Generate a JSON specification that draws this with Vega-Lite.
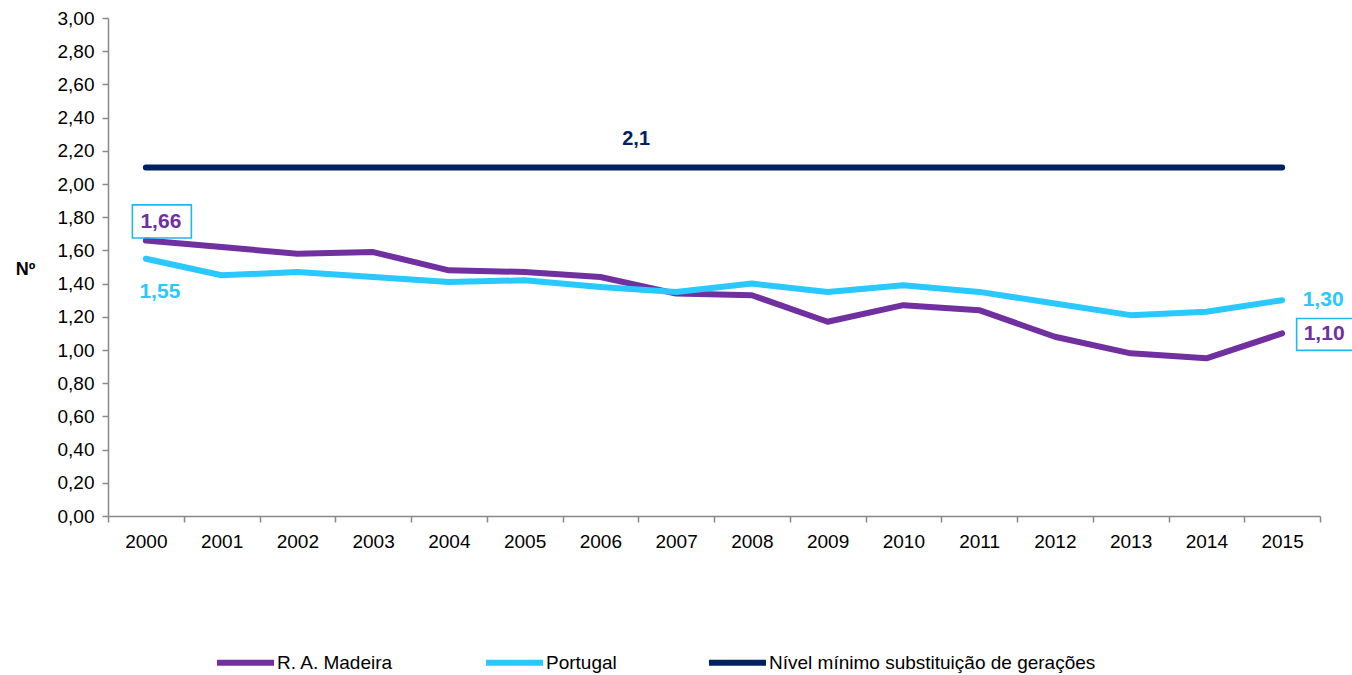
{
  "$schema": "https://vega.github.io/schema/vega-lite/v6.json",
  "autosize": {"type": "none"},
  "padding": {"left": 108, "top": 18, "right": 32, "bottom": 159},
  "width": 1212,
  "height": 498,
  "background": "white",
  "config": {
    "font": "Liberation Sans",
    "view": {"stroke": null},
    "locale": {"number": {"decimal": ",", "thousands": ".", "grouping": [3], "currency": ["", " €"]}}
  },
  "data": {
    "values": [
      {"year": "2000", "series": "R. A. Madeira", "value": 1.66},
      {"year": "2001", "series": "R. A. Madeira", "value": 1.62},
      {"year": "2002", "series": "R. A. Madeira", "value": 1.58},
      {"year": "2003", "series": "R. A. Madeira", "value": 1.59},
      {"year": "2004", "series": "R. A. Madeira", "value": 1.48},
      {"year": "2005", "series": "R. A. Madeira", "value": 1.47},
      {"year": "2006", "series": "R. A. Madeira", "value": 1.44},
      {"year": "2007", "series": "R. A. Madeira", "value": 1.34},
      {"year": "2008", "series": "R. A. Madeira", "value": 1.33},
      {"year": "2009", "series": "R. A. Madeira", "value": 1.17},
      {"year": "2010", "series": "R. A. Madeira", "value": 1.27},
      {"year": "2011", "series": "R. A. Madeira", "value": 1.24},
      {"year": "2012", "series": "R. A. Madeira", "value": 1.08},
      {"year": "2013", "series": "R. A. Madeira", "value": 0.98},
      {"year": "2014", "series": "R. A. Madeira", "value": 0.95},
      {"year": "2015", "series": "R. A. Madeira", "value": 1.10},
      {"year": "2000", "series": "Portugal", "value": 1.55},
      {"year": "2001", "series": "Portugal", "value": 1.45},
      {"year": "2002", "series": "Portugal", "value": 1.47},
      {"year": "2003", "series": "Portugal", "value": 1.44},
      {"year": "2004", "series": "Portugal", "value": 1.41},
      {"year": "2005", "series": "Portugal", "value": 1.42},
      {"year": "2006", "series": "Portugal", "value": 1.38},
      {"year": "2007", "series": "Portugal", "value": 1.35},
      {"year": "2008", "series": "Portugal", "value": 1.40},
      {"year": "2009", "series": "Portugal", "value": 1.35},
      {"year": "2010", "series": "Portugal", "value": 1.39},
      {"year": "2011", "series": "Portugal", "value": 1.35},
      {"year": "2012", "series": "Portugal", "value": 1.28},
      {"year": "2013", "series": "Portugal", "value": 1.21},
      {"year": "2014", "series": "Portugal", "value": 1.23},
      {"year": "2015", "series": "Portugal", "value": 1.30},
      {"year": "2000", "series": "Nível mínimo substituição de gerações", "value": 2.1},
      {"year": "2001", "series": "Nível mínimo substituição de gerações", "value": 2.1},
      {"year": "2002", "series": "Nível mínimo substituição de gerações", "value": 2.1},
      {"year": "2003", "series": "Nível mínimo substituição de gerações", "value": 2.1},
      {"year": "2004", "series": "Nível mínimo substituição de gerações", "value": 2.1},
      {"year": "2005", "series": "Nível mínimo substituição de gerações", "value": 2.1},
      {"year": "2006", "series": "Nível mínimo substituição de gerações", "value": 2.1},
      {"year": "2007", "series": "Nível mínimo substituição de gerações", "value": 2.1},
      {"year": "2008", "series": "Nível mínimo substituição de gerações", "value": 2.1},
      {"year": "2009", "series": "Nível mínimo substituição de gerações", "value": 2.1},
      {"year": "2010", "series": "Nível mínimo substituição de gerações", "value": 2.1},
      {"year": "2011", "series": "Nível mínimo substituição de gerações", "value": 2.1},
      {"year": "2012", "series": "Nível mínimo substituição de gerações", "value": 2.1},
      {"year": "2013", "series": "Nível mínimo substituição de gerações", "value": 2.1},
      {"year": "2014", "series": "Nível mínimo substituição de gerações", "value": 2.1},
      {"year": "2015", "series": "Nível mínimo substituição de gerações", "value": 2.1}
    ]
  },
  "encoding": {
    "x": {
      "field": "year",
      "type": "ordinal",
      "bandPosition": 0.5,
      "scale": {"type": "band", "paddingInner": 0, "paddingOuter": 0},
      "axis": {
        "title": null,
        "labelAngle": 0,
        "tickBand": "extent",
        "domainColor": "#888888",
        "domainWidth": 1.5,
        "tickColor": "#888888",
        "tickWidth": 1.5,
        "tickSize": 6,
        "labelFontSize": 19,
        "labelColor": "#000000",
        "labelPadding": 10
      }
    },
    "y": {
      "field": "value",
      "type": "quantitative",
      "scale": {"domain": [0, 3], "nice": false, "zero": true},
      "axis": {
        "title": "Nº",
        "titleAngle": 0,
        "titleFontSize": 18,
        "titleFontWeight": "bold",
        "titleColor": "#000000",
        "titleX": -83,
        "titleY": 251,
        "titleAlign": "center",
        "titleBaseline": "middle",
        "values": [0, 0.2, 0.4, 0.6, 0.8, 1.0, 1.2, 1.4, 1.6, 1.8, 2.0, 2.2, 2.4, 2.6, 2.8, 3.0],
        "labelExpr": "replace(format(datum.value, '.2f'), '.', ',')",
        "grid": false,
        "domainColor": "#888888",
        "domainWidth": 1.5,
        "tickColor": "#888888",
        "tickWidth": 1.5,
        "tickSize": 6,
        "labelFontSize": 19,
        "labelColor": "#000000",
        "labelPadding": 8
      }
    }
  },
  "layer": [
    {
      "mark": {"type": "line", "strokeWidth": 6, "strokeCap": "round", "strokeJoin": "round"},
      "encoding": {
        "color": {
          "field": "series",
          "type": "nominal",
          "sort": ["R. A. Madeira", "Portugal", "Nível mínimo substituição de gerações"],
          "scale": {
            "domain": ["R. A. Madeira", "Portugal", "Nível mínimo substituição de gerações"],
            "range": ["#7030A0", "#29C8FF", "#002060"]
          },
          "legend": {
            "title": null,
            "orient": "none",
            "direction": "horizontal",
            "legendX": 106,
            "legendY": 613,
            "symbolType": "stroke",
            "symbolSize": 3249,
            "symbolStrokeWidth": 6,
            "labelFontSize": 19,
            "labelColor": "#000000",
            "labelOffset": 0,
            "labelLimit": 600,
            "columnPadding": 80,
            "symbolOffset": 0
          }
        }
      }
    },
    {
      "transform": [{"filter": "datum.series === 'R. A. Madeira' && datum.year === '2000'"}],
      "mark": {"type": "point", "shape": "M-1,-0.56H1V0.56H-1Z", "size": 3481, "filled": false, "stroke": "#1EB8F0", "strokeWidth": 1.6, "opacity": 1, "xOffset": 16, "yOffset": -19}
    },
    {
      "transform": [{"filter": "datum.series === 'R. A. Madeira' && datum.year === '2015'"}],
      "mark": {"type": "point", "shape": "M-1,-0.56H1V0.56H-1Z", "size": 3249, "filled": false, "stroke": "#1EB8F0", "strokeWidth": 1.6, "opacity": 1, "xOffset": 43, "yOffset": 1}
    },
    {
      "transform": [{"filter": "datum.series === 'R. A. Madeira' && datum.year === '2000'"}],
      "mark": {"type": "text", "fontSize": 21, "fontWeight": "bold", "color": "#7030A0", "dx": 15, "dy": -18, "baseline": "middle"},
      "encoding": {"text": {"field": "value", "type": "quantitative", "format": ".2f"}}
    },
    {
      "transform": [{"filter": "datum.series === 'R. A. Madeira' && datum.year === '2015'"}],
      "mark": {"type": "text", "fontSize": 21, "fontWeight": "bold", "color": "#7030A0", "dx": 42, "dy": 1, "baseline": "middle"},
      "encoding": {"text": {"field": "value", "type": "quantitative", "format": ".2f"}}
    },
    {
      "transform": [{"filter": "datum.series === 'Portugal' && datum.year === '2000'"}],
      "mark": {"type": "text", "fontSize": 21, "fontWeight": "bold", "color": "#29C8FF", "dx": 14, "dy": 33, "baseline": "middle"},
      "encoding": {"text": {"field": "value", "type": "quantitative", "format": ".2f"}}
    },
    {
      "transform": [{"filter": "datum.series === 'Portugal' && datum.year === '2015'"}],
      "mark": {"type": "text", "fontSize": 21, "fontWeight": "bold", "color": "#29C8FF", "dx": 41, "dy": 0, "baseline": "middle"},
      "encoding": {"text": {"field": "value", "type": "quantitative", "format": ".2f"}}
    },
    {
      "transform": [{"filter": "datum.series === 'Nível mínimo substituição de gerações' && datum.year === '2007'"}],
      "mark": {"type": "text", "fontSize": 20, "fontWeight": "bold", "color": "#002060", "dx": -40, "dy": -28, "baseline": "middle"},
      "encoding": {"text": {"field": "value", "type": "quantitative", "format": ".1f"}}
    }
  ]
}
